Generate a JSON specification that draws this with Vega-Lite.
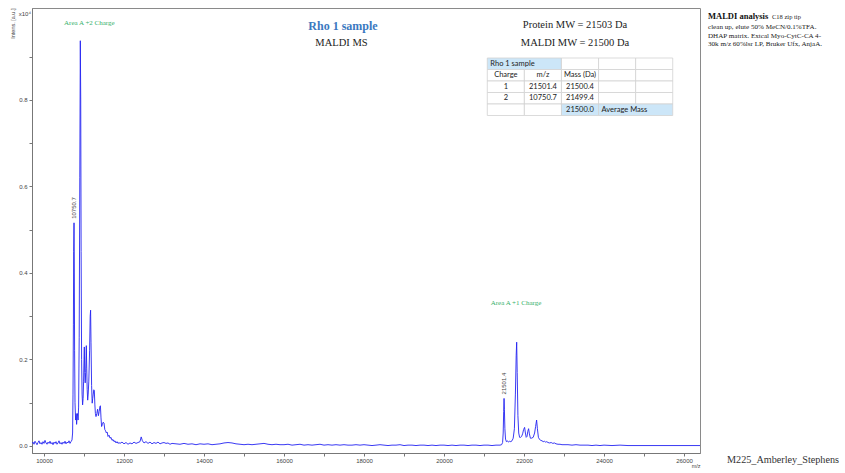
{
  "$schema": "https://vega.github.io/schema/vega-lite/v6.json",
  "width": 668,
  "height": 445,
  "autosize": "none",
  "padding": {"left": 32, "top": 8, "right": 145, "bottom": 20},
  "background": "white",
  "config": {
    "view": {"stroke": "#8a8a8a", "strokeWidth": 1},
    "axis": {"labelFont": "Liberation Sans", "titleFont": "Liberation Sans", "grid": false}
  },
  "datasets": {
    "one": [{}],
    "spectrum": [
      {"mz": 9700, "i": 0.006}, {"mz": 9725, "i": 0.009}, {"mz": 9750, "i": 0.004}, {"mz": 9775, "i": 0.011}, {"mz": 9800, "i": 0.007},
      {"mz": 9825, "i": 0.003}, {"mz": 9850, "i": 0.008}, {"mz": 9875, "i": 0.012}, {"mz": 9900, "i": 0.005}, {"mz": 9925, "i": 0.008},
      {"mz": 9950, "i": 0.004}, {"mz": 9975, "i": 0.010}, {"mz": 10000, "i": 0.006}, {"mz": 10025, "i": 0.013}, {"mz": 10050, "i": 0.007},
      {"mz": 10075, "i": 0.004}, {"mz": 10100, "i": 0.009}, {"mz": 10125, "i": 0.006}, {"mz": 10150, "i": 0.011}, {"mz": 10175, "i": 0.005},
      {"mz": 10200, "i": 0.008}, {"mz": 10225, "i": 0.003}, {"mz": 10250, "i": 0.009}, {"mz": 10275, "i": 0.006}, {"mz": 10300, "i": 0.010},
      {"mz": 10325, "i": 0.004}, {"mz": 10350, "i": 0.007}, {"mz": 10375, "i": 0.012}, {"mz": 10400, "i": 0.005}, {"mz": 10425, "i": 0.008},
      {"mz": 10450, "i": 0.004}, {"mz": 10475, "i": 0.009}, {"mz": 10500, "i": 0.006}, {"mz": 10525, "i": 0.011}, {"mz": 10550, "i": 0.005},
      {"mz": 10575, "i": 0.009}, {"mz": 10600, "i": 0.007}, {"mz": 10625, "i": 0.012}, {"mz": 10650, "i": 0.006}, {"mz": 10675, "i": 0.010},
      {"mz": 10700, "i": 0.014}, {"mz": 10715, "i": 0.03}, {"mz": 10725, "i": 0.12}, {"mz": 10735, "i": 0.28}, {"mz": 10742, "i": 0.45},
      {"mz": 10750.7, "i": 0.516}, {"mz": 10758, "i": 0.40}, {"mz": 10765, "i": 0.22}, {"mz": 10775, "i": 0.10}, {"mz": 10790, "i": 0.06},
      {"mz": 10805, "i": 0.075}, {"mz": 10815, "i": 0.05}, {"mz": 10828, "i": 0.068}, {"mz": 10840, "i": 0.075}, {"mz": 10852, "i": 0.06},
      {"mz": 10865, "i": 0.09}, {"mz": 10880, "i": 0.25}, {"mz": 10895, "i": 0.62}, {"mz": 10908, "i": 0.937}, {"mz": 10918, "i": 0.80},
      {"mz": 10928, "i": 0.45}, {"mz": 10940, "i": 0.20}, {"mz": 10952, "i": 0.12}, {"mz": 10965, "i": 0.095}, {"mz": 10978, "i": 0.11},
      {"mz": 10990, "i": 0.15}, {"mz": 11000, "i": 0.20}, {"mz": 11008, "i": 0.229}, {"mz": 11018, "i": 0.17}, {"mz": 11030, "i": 0.146},
      {"mz": 11042, "i": 0.17}, {"mz": 11052, "i": 0.21}, {"mz": 11058, "i": 0.232}, {"mz": 11068, "i": 0.18}, {"mz": 11080, "i": 0.13},
      {"mz": 11092, "i": 0.106}, {"mz": 11105, "i": 0.12}, {"mz": 11120, "i": 0.15}, {"mz": 11140, "i": 0.22}, {"mz": 11155, "i": 0.30},
      {"mz": 11165, "i": 0.314}, {"mz": 11175, "i": 0.24}, {"mz": 11190, "i": 0.14}, {"mz": 11205, "i": 0.099}, {"mz": 11218, "i": 0.11},
      {"mz": 11232, "i": 0.12}, {"mz": 11245, "i": 0.13}, {"mz": 11258, "i": 0.128}, {"mz": 11272, "i": 0.095}, {"mz": 11285, "i": 0.075},
      {"mz": 11300, "i": 0.068}, {"mz": 11320, "i": 0.075}, {"mz": 11340, "i": 0.085}, {"mz": 11360, "i": 0.07}, {"mz": 11380, "i": 0.08},
      {"mz": 11398, "i": 0.091}, {"mz": 11410, "i": 0.093}, {"mz": 11425, "i": 0.065}, {"mz": 11440, "i": 0.045}, {"mz": 11460, "i": 0.05},
      {"mz": 11480, "i": 0.055}, {"mz": 11500, "i": 0.053}, {"mz": 11520, "i": 0.038}, {"mz": 11540, "i": 0.035}, {"mz": 11560, "i": 0.03},
      {"mz": 11580, "i": 0.032}, {"mz": 11600, "i": 0.022}, {"mz": 11625, "i": 0.025}, {"mz": 11650, "i": 0.018}, {"mz": 11675, "i": 0.02},
      {"mz": 11700, "i": 0.013}, {"mz": 11725, "i": 0.015}, {"mz": 11750, "i": 0.01}, {"mz": 11775, "i": 0.012}, {"mz": 11800, "i": 0.007},
      {"mz": 11825, "i": 0.01}, {"mz": 11850, "i": 0.006}, {"mz": 11875, "i": 0.008}, {"mz": 11900, "i": 0.006}, {"mz": 11950, "i": 0.009},
      {"mz": 12000, "i": 0.005}, {"mz": 12050, "i": 0.008}, {"mz": 12100, "i": 0.004}, {"mz": 12150, "i": 0.007}, {"mz": 12200, "i": 0.005},
      {"mz": 12250, "i": 0.009}, {"mz": 12300, "i": 0.006}, {"mz": 12350, "i": 0.008}, {"mz": 12400, "i": 0.010}, {"mz": 12430, "i": 0.021},
      {"mz": 12460, "i": 0.012}, {"mz": 12500, "i": 0.007}, {"mz": 12550, "i": 0.010}, {"mz": 12600, "i": 0.006}, {"mz": 12650, "i": 0.009},
      {"mz": 12700, "i": 0.005}, {"mz": 12750, "i": 0.008}, {"mz": 12800, "i": 0.006}, {"mz": 12850, "i": 0.009}, {"mz": 12900, "i": 0.005},
      {"mz": 12950, "i": 0.007}, {"mz": 13000, "i": 0.008}, {"mz": 13050, "i": 0.006}, {"mz": 13100, "i": 0.007}, {"mz": 13150, "i": 0.004},
      {"mz": 13200, "i": 0.006}, {"mz": 13300, "i": 0.005}, {"mz": 13400, "i": 0.004}, {"mz": 13500, "i": 0.006}, {"mz": 13600, "i": 0.004},
      {"mz": 13700, "i": 0.005}, {"mz": 13800, "i": 0.003}, {"mz": 13900, "i": 0.005}, {"mz": 14000, "i": 0.004}, {"mz": 14100, "i": 0.005},
      {"mz": 14200, "i": 0.003}, {"mz": 14300, "i": 0.004}, {"mz": 14400, "i": 0.005}, {"mz": 14500, "i": 0.007}, {"mz": 14600, "i": 0.008},
      {"mz": 14700, "i": 0.007}, {"mz": 14800, "i": 0.005}, {"mz": 14900, "i": 0.004}, {"mz": 15000, "i": 0.003}, {"mz": 15100, "i": 0.004},
      {"mz": 15200, "i": 0.003}, {"mz": 15300, "i": 0.004}, {"mz": 15400, "i": 0.005}, {"mz": 15500, "i": 0.006}, {"mz": 15600, "i": 0.004},
      {"mz": 15700, "i": 0.003}, {"mz": 15800, "i": 0.004}, {"mz": 15900, "i": 0.003}, {"mz": 16000, "i": 0.003}, {"mz": 16100, "i": 0.004},
      {"mz": 16200, "i": 0.002}, {"mz": 16300, "i": 0.003}, {"mz": 16400, "i": 0.004}, {"mz": 16500, "i": 0.002}, {"mz": 16600, "i": 0.003},
      {"mz": 16700, "i": 0.002}, {"mz": 16800, "i": 0.003}, {"mz": 16900, "i": 0.004}, {"mz": 17000, "i": 0.002}, {"mz": 17100, "i": 0.003},
      {"mz": 17200, "i": 0.002}, {"mz": 17300, "i": 0.003}, {"mz": 17400, "i": 0.002}, {"mz": 17500, "i": 0.003}, {"mz": 17600, "i": 0.002},
      {"mz": 17700, "i": 0.002}, {"mz": 17800, "i": 0.003}, {"mz": 17900, "i": 0.002}, {"mz": 18000, "i": 0.003}, {"mz": 18100, "i": 0.002},
      {"mz": 18200, "i": 0.001}, {"mz": 18300, "i": 0.002}, {"mz": 18400, "i": 0.003}, {"mz": 18500, "i": 0.002}, {"mz": 18600, "i": 0.001},
      {"mz": 18700, "i": 0.002}, {"mz": 18800, "i": 0.002}, {"mz": 18900, "i": 0.003}, {"mz": 19000, "i": 0.001}, {"mz": 19100, "i": 0.002},
      {"mz": 19200, "i": 0.002}, {"mz": 19300, "i": 0.001}, {"mz": 19400, "i": 0.002}, {"mz": 19500, "i": 0.002}, {"mz": 19600, "i": 0.001},
      {"mz": 19700, "i": 0.002}, {"mz": 19800, "i": 0.001}, {"mz": 19900, "i": 0.002}, {"mz": 20000, "i": 0.002}, {"mz": 20100, "i": 0.001},
      {"mz": 20200, "i": 0.002}, {"mz": 20300, "i": 0.001}, {"mz": 20400, "i": 0.002}, {"mz": 20500, "i": 0.002}, {"mz": 20600, "i": 0.001},
      {"mz": 20700, "i": 0.002}, {"mz": 20800, "i": 0.002}, {"mz": 20900, "i": 0.001}, {"mz": 21000, "i": 0.002}, {"mz": 21100, "i": 0.002},
      {"mz": 21200, "i": 0.001}, {"mz": 21300, "i": 0.002}, {"mz": 21400, "i": 0.002}, {"mz": 21440, "i": 0.003}, {"mz": 21465, "i": 0.008},
      {"mz": 21480, "i": 0.03}, {"mz": 21492, "i": 0.08}, {"mz": 21501.4, "i": 0.110}, {"mz": 21510, "i": 0.085}, {"mz": 21522, "i": 0.04},
      {"mz": 21538, "i": 0.016}, {"mz": 21560, "i": 0.010}, {"mz": 21585, "i": 0.012}, {"mz": 21610, "i": 0.009}, {"mz": 21640, "i": 0.011},
      {"mz": 21670, "i": 0.010}, {"mz": 21700, "i": 0.012}, {"mz": 21730, "i": 0.018}, {"mz": 21760, "i": 0.04}, {"mz": 21785, "i": 0.12},
      {"mz": 21805, "i": 0.21}, {"mz": 21817, "i": 0.240}, {"mz": 21830, "i": 0.17}, {"mz": 21848, "i": 0.07}, {"mz": 21868, "i": 0.03},
      {"mz": 21890, "i": 0.020}, {"mz": 21915, "i": 0.020}, {"mz": 21940, "i": 0.022}, {"mz": 21965, "i": 0.028}, {"mz": 21990, "i": 0.038},
      {"mz": 22015, "i": 0.043}, {"mz": 22035, "i": 0.030}, {"mz": 22055, "i": 0.020}, {"mz": 22075, "i": 0.022}, {"mz": 22095, "i": 0.034},
      {"mz": 22115, "i": 0.040}, {"mz": 22135, "i": 0.028}, {"mz": 22160, "i": 0.018}, {"mz": 22185, "i": 0.018}, {"mz": 22230, "i": 0.020},
      {"mz": 22265, "i": 0.030}, {"mz": 22290, "i": 0.045}, {"mz": 22315, "i": 0.060}, {"mz": 22335, "i": 0.040}, {"mz": 22360, "i": 0.020},
      {"mz": 22390, "i": 0.015}, {"mz": 22420, "i": 0.013}, {"mz": 22450, "i": 0.012}, {"mz": 22480, "i": 0.010}, {"mz": 22510, "i": 0.011},
      {"mz": 22540, "i": 0.009}, {"mz": 22570, "i": 0.010}, {"mz": 22600, "i": 0.008}, {"mz": 22640, "i": 0.007}, {"mz": 22680, "i": 0.008},
      {"mz": 22720, "i": 0.006}, {"mz": 22760, "i": 0.007}, {"mz": 22800, "i": 0.005}, {"mz": 22850, "i": 0.004}, {"mz": 22900, "i": 0.004},
      {"mz": 22950, "i": 0.003}, {"mz": 23000, "i": 0.003}, {"mz": 23100, "i": 0.003}, {"mz": 23200, "i": 0.002}, {"mz": 23300, "i": 0.003},
      {"mz": 23400, "i": 0.002}, {"mz": 23500, "i": 0.002}, {"mz": 23600, "i": 0.002}, {"mz": 23700, "i": 0.001}, {"mz": 23800, "i": 0.002},
      {"mz": 23900, "i": 0.001}, {"mz": 24000, "i": 0.002}, {"mz": 24200, "i": 0.001}, {"mz": 24400, "i": 0.002}, {"mz": 24600, "i": 0.001},
      {"mz": 24800, "i": 0.001}, {"mz": 25000, "i": 0.001}, {"mz": 25200, "i": 0.001}, {"mz": 25400, "i": 0.001}, {"mz": 25600, "i": 0.001},
      {"mz": 25800, "i": 0.001}, {"mz": 26000, "i": 0.001}, {"mz": 26200, "i": 0.001}, {"mz": 26400, "i": 0.001}
    ],
    "peaks": [
      {"mz": 10750.7, "i": 0.516, "label": "10750.7"},
      {"mz": 21501.4, "i": 0.110, "label": "21501.4"}
    ],
    "cells": [
      {"r": 0, "r2": 1, "c": 0, "c2": 2, "kind": "hl"},
      {"r": 0, "r2": 1, "c": 2, "c2": 3, "kind": "plain"},
      {"r": 0, "r2": 1, "c": 3, "c2": 4, "kind": "plain"},
      {"r": 0, "r2": 1, "c": 4, "c2": 5, "kind": "plain"},
      {"r": 1, "r2": 2, "c": 0, "c2": 1, "kind": "plain"},
      {"r": 1, "r2": 2, "c": 1, "c2": 2, "kind": "plain"},
      {"r": 1, "r2": 2, "c": 2, "c2": 3, "kind": "plain"},
      {"r": 1, "r2": 2, "c": 3, "c2": 4, "kind": "plain"},
      {"r": 1, "r2": 2, "c": 4, "c2": 5, "kind": "plain"},
      {"r": 2, "r2": 3, "c": 0, "c2": 1, "kind": "plain"},
      {"r": 2, "r2": 3, "c": 1, "c2": 2, "kind": "plain"},
      {"r": 2, "r2": 3, "c": 2, "c2": 3, "kind": "plain"},
      {"r": 2, "r2": 3, "c": 3, "c2": 4, "kind": "plain"},
      {"r": 2, "r2": 3, "c": 4, "c2": 5, "kind": "plain"},
      {"r": 3, "r2": 4, "c": 0, "c2": 1, "kind": "plain"},
      {"r": 3, "r2": 4, "c": 1, "c2": 2, "kind": "plain"},
      {"r": 3, "r2": 4, "c": 2, "c2": 3, "kind": "plain"},
      {"r": 3, "r2": 4, "c": 3, "c2": 4, "kind": "plain"},
      {"r": 3, "r2": 4, "c": 4, "c2": 5, "kind": "plain"},
      {"r": 4, "r2": 5, "c": 0, "c2": 1, "kind": "plain"},
      {"r": 4, "r2": 5, "c": 1, "c2": 2, "kind": "plain"},
      {"r": 4, "r2": 5, "c": 2, "c2": 3, "kind": "hl"},
      {"r": 4, "r2": 5, "c": 3, "c2": 5, "kind": "hl"}
    ],
    "celltext": [
      {"r": 0, "c": 0, "t": "Rho 1 sample", "role": "left"},
      {"r": 1, "c": 0, "t": "Charge", "role": "center"},
      {"r": 1, "c": 1, "t": "m/z", "role": "center"},
      {"r": 1, "c": 2, "t": "Mass (Da)", "role": "center"},
      {"r": 2, "c": 0, "t": "1", "role": "center"},
      {"r": 2, "c": 1, "t": "21501.4", "role": "center"},
      {"r": 2, "c": 2, "t": "21500.4", "role": "center"},
      {"r": 3, "c": 0, "t": "2", "role": "center"},
      {"r": 3, "c": 1, "t": "10750.7", "role": "center"},
      {"r": 3, "c": 2, "t": "21499.4", "role": "center"},
      {"r": 4, "c": 2, "t": "21500.0", "role": "center"},
      {"r": 4, "c": 3, "t": "Average Mass", "role": "left"}
    ]
  },
  "layer": [
    {
      "layer": [
        {
          "data": {"name": "spectrum"},
          "mark": {"type": "line", "color": "#2424f2", "strokeWidth": 0.9, "clip": true, "interpolate": "linear"},
          "encoding": {
            "x": {
              "field": "mz", "type": "quantitative",
              "scale": {"domain": [9700, 26400], "nice": false, "zero": false},
              "axis": {
                "values": [10000, 11000, 12000, 13000, 14000, 15000, 16000, 17000, 18000, 19000, 20000, 21000, 22000, 23000, 24000, 25000, 26000],
                "format": "d",
                "labelExpr": "datum.value % 2000 == 0 ? datum.label : ''",
                "labelFontSize": 6, "labelColor": "#444", "labelPadding": 1,
                "tickSize": 3, "tickColor": "#777", "domainColor": "#777",
                "title": "m/z", "titleAnchor": "end", "titleFontSize": 5.5, "titleFontWeight": "normal",
                "titleColor": "#444", "titlePadding": 0
              }
            },
            "y": {
              "field": "i", "type": "quantitative",
              "scale": {"domain": [-0.0162, 1.0127], "nice": false, "zero": false},
              "axis": {
                "values": [0, 0.1, 0.2, 0.3, 0.4, 0.5, 0.6, 0.7, 0.8, 0.9],
                "format": ".1f",
                "labelExpr": "round(datum.value * 10) % 2 == 0 ? datum.label : ''",
                "labelFontSize": 6, "labelColor": "#444", "labelPadding": 2,
                "tickSize": 3, "tickColor": "#777", "domainColor": "#777",
                "title": "Intens. [a.u.]", "titleAnchor": "end", "titleFontSize": 5.5, "titleFontWeight": "normal",
                "titleColor": "#444", "titlePadding": 3
              }
            }
          }
        },
        {
          "data": {"name": "peaks"},
          "mark": {"type": "text", "angle": 270, "align": "left", "baseline": "middle", "dx": 4, "font": "Liberation Sans", "fontSize": 6, "color": "#444"},
          "encoding": {
            "x": {"field": "mz", "type": "quantitative", "scale": {"domain": [9700, 26400], "nice": false, "zero": false}},
            "y": {"field": "i", "type": "quantitative", "scale": {"domain": [-0.0162, 1.0127], "nice": false, "zero": false}},
            "text": {"field": "label"}
          }
        },
        {
          "data": {"name": "one"},
          "mark": {"type": "text", "align": "left", "baseline": "middle", "font": "Liberation Serif", "fontSize": 7, "color": "#35b06a"},
          "encoding": {"x": {"datum": 10500}, "y": {"datum": 0.979}, "text": {"value": "Area A +2 Charge"}}
        },
        {
          "data": {"name": "one"},
          "mark": {"type": "text", "align": "left", "baseline": "middle", "font": "Liberation Serif", "fontSize": 7, "color": "#35b06a"},
          "encoding": {"x": {"datum": 21167}, "y": {"datum": 0.330}, "text": {"value": "Area A +1 Charge"}}
        },
        {
          "data": {"name": "one"},
          "mark": {"type": "text", "align": "right", "baseline": "middle", "dx": -1, "font": "Liberation Sans", "fontSize": 6, "color": "#444"},
          "encoding": {"x": {"datum": 9700}, "y": {"datum": 0.9988}, "text": {"value": "x10⁴"}}
        },
        {
          "data": {"name": "one"},
          "mark": {"type": "text", "align": "center", "baseline": "middle", "font": "Liberation Serif", "fontSize": 12, "fontWeight": "bold", "color": "#3b78c0"},
          "encoding": {"x": {"datum": 17475}, "y": {"datum": 0.9718}, "text": {"value": "Rho 1 sample"}}
        },
        {
          "data": {"name": "one"},
          "mark": {"type": "text", "align": "center", "baseline": "middle", "font": "Liberation Serif", "fontSize": 10.5, "color": "#222"},
          "encoding": {"x": {"datum": 17437}, "y": {"datum": 0.9311}, "text": {"value": "MALDI MS"}}
        },
        {
          "data": {"name": "one"},
          "mark": {"type": "text", "align": "center", "baseline": "middle", "font": "Liberation Serif", "fontSize": 10.5, "color": "#222"},
          "encoding": {"x": {"datum": 23275}, "y": {"datum": 0.9734}, "text": {"value": "Protein MW = 21503 Da"}}
        },
        {
          "data": {"name": "one"},
          "mark": {"type": "text", "align": "center", "baseline": "middle", "font": "Liberation Serif", "fontSize": 10.5, "color": "#222"},
          "encoding": {"x": {"datum": 23275}, "y": {"datum": 0.9318}, "text": {"value": "MALDI MW = 21500 Da"}}
        },
        {
          "data": {"name": "one"},
          "mark": {"type": "text", "align": "left", "baseline": "alphabetic", "font": "Liberation Serif", "fontSize": 8.5, "fontWeight": "bold", "color": "#111"},
          "encoding": {"x": {"datum": 26600}, "y": {"datum": 0.9873}, "text": {"value": "MALDI analysis"}}
        },
        {
          "data": {"name": "one"},
          "mark": {"type": "text", "align": "left", "baseline": "alphabetic", "font": "Liberation Serif", "fontSize": 6.5, "color": "#222"},
          "encoding": {"x": {"datum": 28200}, "y": {"datum": 0.9873}, "text": {"value": "C18 zip tip"}}
        },
        {
          "data": {"name": "one"},
          "mark": {"type": "text", "align": "left", "baseline": "alphabetic", "font": "Liberation Serif", "fontSize": 7.1, "lineHeight": 8.5, "color": "#222"},
          "encoding": {
            "x": {"datum": 26600}, "y": {"datum": 0.963},
            "text": {"value": ["clean up, elute 50% MeCN/0.1%TFA.", "DHAP matrix. Extcal Myo-CytC-CA 4-", "30k m/z 60%lsr LP, Bruker Ufx, AnjaA."]}
          }
        },
        {
          "data": {"name": "one"},
          "mark": {"type": "text", "align": "left", "baseline": "middle", "font": "Liberation Serif", "fontSize": 10.2, "color": "#333"},
          "encoding": {"x": {"datum": 27075}, "y": {"datum": -0.0324}, "text": {"value": "M225_Amberley_Stephens"}}
        }
      ]
    },
    {
      "data": {"name": "cells"},
      "mark": {"type": "rect", "stroke": "#d2d2d2", "strokeWidth": 0.8},
      "encoding": {
        "x": {"field": "c", "type": "quantitative", "scale": {"domain": [-12.279, 5.736], "nice": false, "zero": false}, "axis": null},
        "x2": {"field": "c2"},
        "y": {"field": "r", "type": "quantitative", "scale": {"domain": [-4.348, 34.348], "nice": false, "zero": false, "reverse": true}, "axis": null},
        "y2": {"field": "r2"},
        "fill": {"field": "kind", "type": "nominal", "scale": {"domain": ["plain", "hl"], "range": ["#ffffff", "#cce6f8"]}, "legend": null}
      }
    },
    {
      "data": {"name": "celltext"},
      "transform": [{"filter": "datum.role == 'center'"}],
      "mark": {"type": "text", "align": "center", "baseline": "middle", "font": "Lato", "fontSize": 7.5, "color": "#222"},
      "encoding": {
        "x": {"field": "c", "type": "quantitative", "scale": {"domain": [-12.779, 5.236], "nice": false, "zero": false}, "axis": null},
        "y": {"field": "r", "type": "quantitative", "scale": {"domain": [-4.848, 33.848], "nice": false, "zero": false, "reverse": true}, "axis": null},
        "text": {"field": "t"}
      }
    },
    {
      "data": {"name": "celltext"},
      "transform": [{"filter": "datum.role == 'left'"}],
      "mark": {"type": "text", "align": "left", "baseline": "middle", "dx": 3, "font": "Lato", "fontSize": 7.5, "color": "#222"},
      "encoding": {
        "x": {"field": "c", "type": "quantitative", "scale": {"domain": [-12.279, 5.736], "nice": false, "zero": false}, "axis": null},
        "y": {"field": "r", "type": "quantitative", "scale": {"domain": [-4.848, 33.848], "nice": false, "zero": false, "reverse": true}, "axis": null},
        "text": {"field": "t"}
      }
    }
  ],
  "resolve": {"scale": {"x": "independent", "y": "independent", "fill": "independent"}}
}
